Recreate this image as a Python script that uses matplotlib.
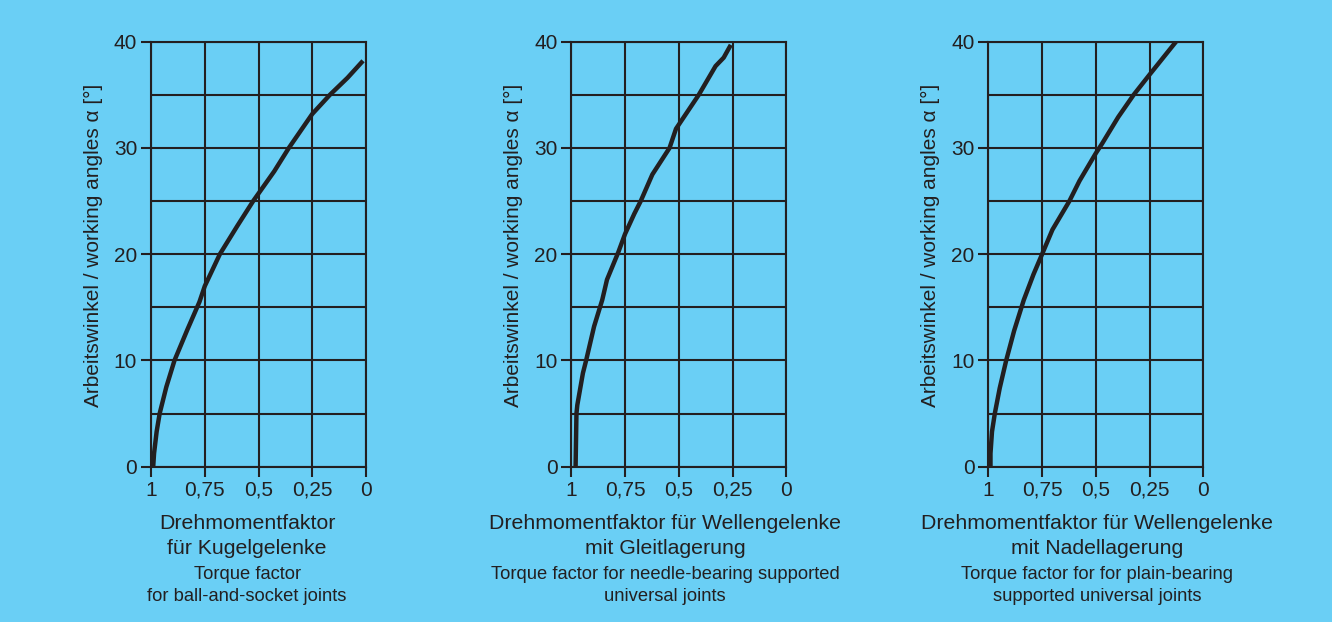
import matplotlib.pyplot as plt

plt.rcParams['font.family'] = ['Liberation Sans', 'DejaVu Sans']

BG = "#6acff5"
INK = "#231f20"

# torque factor (x) vs. working angle in degrees (y)
ball_factor = [0.99, 0.986, 0.974, 0.96, 0.929, 0.891, 0.831, 0.775, 0.75, 0.68, 0.599,
               0.525, 0.427, 0.359, 0.25, 0.168, 0.086, 0.014]
ball_angle = [0, 1.25, 3.3, 5, 7.5, 10, 12.9, 15.5, 17, 20, 22.65,
              25, 27.8, 30, 33.2, 35, 36.6, 38.2]

plain_factor = [0.98, 0.978, 0.976, 0.972, 0.946, 0.931, 0.894, 0.856, 0.834, 0.781,
                0.75, 0.707, 0.677, 0.623, 0.543, 0.513, 0.46, 0.407, 0.329, 0.291, 0.258]
plain_angle = [0, 2.5, 5, 5.8, 8.8, 10, 13.2, 15.7, 17.6, 20.2,
               21.9, 23.8, 25, 27.5, 30, 31.8, 33.4, 35, 37.7, 38.5, 39.7]

needle_factor = [0.99, 0.99, 0.983, 0.97, 0.947, 0.917, 0.88, 0.835, 0.79, 0.75, 0.702,
                 0.623, 0.576, 0.5, 0.471, 0.396, 0.324, 0.25, 0.127]
needle_angle = [0, 1.25, 3.3, 5, 7.4, 10, 12.8, 15.7, 18.1, 20, 22.3,
                25, 26.9, 29.5, 30.4, 32.9, 35, 36.9, 40]

x_ticks = [1, 0.75, 0.5, 0.25, 0]
x_labels = ["1", "0,75", "0,5", "0,25", "0"]
y_major = [0, 10, 20, 30, 40]
y_minor = [5, 15, 25, 35]

ylabel = "Arbeitswinkel / working angles α [°]"

panels = [
    (ball_factor, ball_angle, 0.1134,
     ["Drehmomentfaktor", "für Kugelgelenke"],
     ["Torque factor", "for ball-and-socket joints"], 0.447),
    (plain_factor, plain_angle, 0.4289,
     ["Drehmomentfaktor für Wellengelenke", "mit Gleitlagerung"],
     ["Torque factor for needle-bearing supported", "universal joints"], 0.436),
    (needle_factor, needle_angle, 0.742,
     ["Drehmomentfaktor für Wellengelenke", "mit Nadellagerung"],
     ["Torque factor for for plain-bearing", "supported universal joints"], 0.506),
]

fig = plt.figure(figsize=(13.32, 6.22), dpi=100, facecolor=BG)

for xs, ys, left, title_de, title_en, tx in panels:
    ax = fig.add_axes([left, 0.2497, 0.1614, 0.6833])
    ax.set_facecolor(BG)
    ax.set_xlim(1, 0)
    ax.set_ylim(0, 40)

    for x in x_ticks:
        ax.axvline(x, color=INK, lw=1.5, zorder=1)
    for y in y_major + y_minor:
        ax.axhline(y, color=INK, lw=1.5, zorder=1)

    for s in ax.spines.values():
        s.set_color(INK)
        s.set_linewidth(1.5)

    ax.set_xticks(x_ticks)
    ax.set_xticklabels(x_labels)
    ax.set_yticks(y_major)
    ax.set_yticklabels([str(v) for v in y_major])
    ax.tick_params(axis='both', direction='out', length=7, width=1.5,
                   color=INK, labelcolor=INK, labelsize=15, pad=3)

    ax.plot(xs, ys, color=INK, lw=3.2, solid_capstyle='butt',
            solid_joinstyle='round', zorder=3)

    ax.text(-0.27, 0.52, ylabel, rotation=90, ha='center', va='center',
            fontsize=15, color=INK, transform=ax.transAxes)

    ax.text(tx, -0.1325, title_de[0], ha='center', va='center',
            fontsize=15.3, color=INK, transform=ax.transAxes)
    ax.text(tx, -0.1936, title_de[1], ha='center', va='center',
            fontsize=15.3, color=INK, transform=ax.transAxes)
    ax.text(tx, -0.2525, title_en[0], ha='center', va='center',
            fontsize=13.2, color=INK, transform=ax.transAxes)
    ax.text(tx, -0.3066, title_en[1], ha='center', va='center',
            fontsize=13.2, color=INK, transform=ax.transAxes)

fig.savefig("out.png", dpi=100, facecolor=BG)
